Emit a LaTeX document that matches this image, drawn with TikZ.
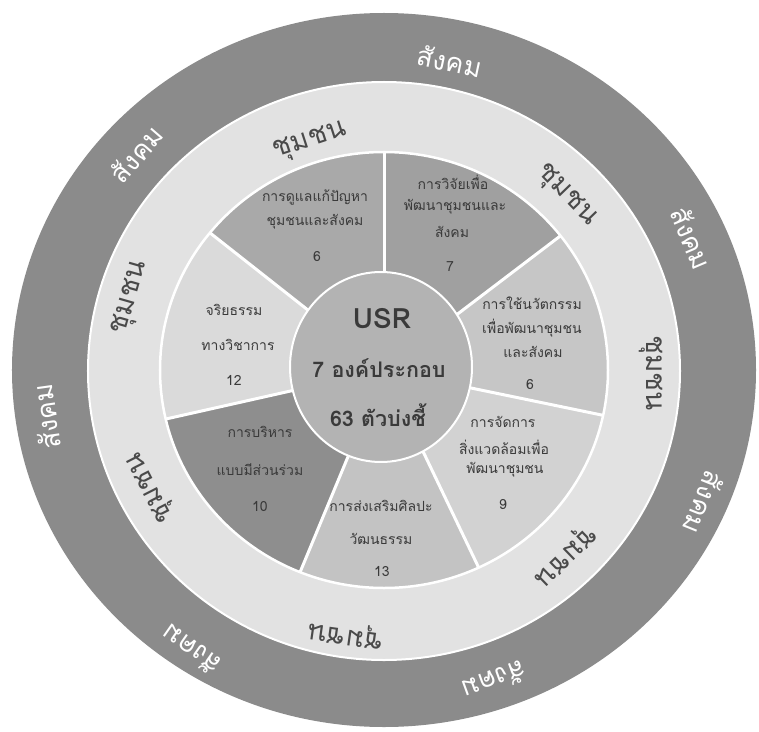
\documentclass[tikz,border=0pt]{standalone}
\usepackage{fontspec}
\newfontfamily\thai[Script=Thai]{Loma}
\definecolor{outc}{HTML}{8B8B8B}
\definecolor{ringbg}{HTML}{E2E2E2}
\definecolor{cA}{HTML}{A9A9A9}
\definecolor{cB}{HTML}{A0A0A0}
\definecolor{cC}{HTML}{C6C6C6}
\definecolor{cD}{HTML}{D2D2D2}
\definecolor{cE}{HTML}{C3C3C3}
\definecolor{cF}{HTML}{8E8E8E}
\definecolor{cG}{HTML}{DADADA}
\definecolor{cenc}{HTML}{B3B3B3}
\definecolor{txtc}{HTML}{3A3A3A}
\definecolor{ringc}{HTML}{4A4A4A}
\begin{document}
\begin{tikzpicture}[x=1pt,y=1pt,
  seg/.style={font=\thai\fontsize{14}{16}\selectfont, text=txtc, inner sep=0pt},
  ringtxt/.style={font=\thai\fontsize{28}{30}\selectfont, text=ringc, inner sep=0pt},
  outtxt/.style={font=\thai\fontsize{27}{30}\selectfont, text=white, inner sep=0pt},
  cen/.style={font=\thai\bfseries\fontsize{21.5}{25}\selectfont, text=txtc, inner sep=0pt},
  sepline/.style={draw=white, line width=3pt}]
\useasboundingbox (-384,-361) rectangle (375,370);
\fill[white] (-384,-361) rectangle (375,370);
% outer ring and light ring
\fill[outc] (0,0) ellipse [x radius=372, y radius=357];
\draw[white, line width=2pt, fill=ringbg] (0,-1) ellipse [x radius=296, y radius=289];
% sectors
\fill[cB] (0,0) -- (38:224 and 218) arc[start angle=38, end angle=90, x radius=224, y radius=218] -- cycle;
\fill[cA] (0,0) -- (90:224 and 218) arc[start angle=90, end angle=141, x radius=224, y radius=218] -- cycle;
\fill[cG] (0,0) -- (141:224 and 218) arc[start angle=141, end angle=193, x radius=224, y radius=218] -- cycle;
\fill[cF] (0,0) -- (193:224 and 218) arc[start angle=193, end angle=248, x radius=224, y radius=218] -- cycle;
\fill[cE] (0,0) -- (248:224 and 218) arc[start angle=248, end angle=295, x radius=224, y radius=218] -- cycle;
\fill[cD] (0,0) -- (295:224 and 218) arc[start angle=295, end angle=348, x radius=224, y radius=218] -- cycle;
\fill[cC] (0,0) -- (348:224 and 218) arc[start angle=348, end angle=398, x radius=224, y radius=218] -- cycle;
\draw[white, line width=2.5pt] (0,0) ellipse [x radius=224, y radius=218];
% separators
\coordinate (o) at (0,0);
\coordinate (r1) at (90:224 and 218);
\coordinate (r2) at (38:224 and 218);
\coordinate (r3) at (-12:224 and 218);
\coordinate (r4) at (-65:224 and 218);
\coordinate (r5) at (-112:224 and 218);
\coordinate (r6) at (193:224 and 218);
\coordinate (r7) at (141:224 and 218);
\foreach \r in {r1,r2,r3,r4,r5,r6,r7} \draw[sepline] (o) -- (\r);
% centre
\draw[white, line width=2pt, fill=cenc] (-3,3) ellipse [x radius=91, y radius=95];
\node[cen, font=\thai\bfseries\fontsize{28}{32}\selectfont] (usr) at (-2,51) {USR};
\node[cen] (c1) at (-5,2) {7 องค์ประกอบ};
\node[cen] (c2) at (-6,-45) {63 ตัวบ่งชี้};
% segment texts
\node[seg] (a1) at (-69,173) {การดูแลแก้ปัญหา};
\node[seg] (a2) at (-69,148) {ชุมชนและสังคม};
\node[seg] (a3) at (-67,113) {6};
\node[seg] (b1) at (69,188) {การวิจัยเพื่อ};
\node[seg] (b2) at (71,163) {พัฒนาชุมชนและ};
\node[seg] (b3) at (68,138) {สังคม};
\node[seg] (b4) at (66,103) {7};
\node[seg] (cc1) at (148,67) {การใช้นวัตกรรม};
\node[seg] (cc2) at (148,42) {เพื่อพัฒนาชุมชน};
\node[seg] (cc3) at (149,18) {และสังคม};
\node[seg] (cc4) at (146,-15) {6};
\node[seg] (d1) at (119,-52) {การจัดการ};
\node[seg] (d2) at (120,-77) {สิ่งแวดล้อมเพื่อ};
\node[seg] (d3) at (121,-100) {พัฒนาชุมชน};
\node[seg] (d4) at (119,-135) {9};
\node[seg] (e1) at (-3,-136) {การส่งเสริมศิลปะ};
\node[seg] (e2) at (-3,-169) {วัฒนธรรม};
\node[seg] (e3) at (-2,-202) {13};
\node[seg] (f1) at (-124,-62) {การบริหาร};
\node[seg] (f2) at (-124,-100) {แบบมีส่วนร่วม};
\node[seg] (f3) at (-124,-137) {10};
\node[seg] (g1) at (-150,60) {จริยธรรม};
\node[seg] (g2) at (-146,25) {ทางวิชาการ};
\node[seg] (g3) at (-150,-10) {12};
% ring texts
\node[ringtxt, rotate=18] (k1) at (-74,228) {ชุมชน};
\node[ringtxt, rotate=-46] (k2) at (182,174) {ชุมชน};
\node[ringtxt, rotate=-90] (k3) at (267,-3) {ชุมชน};
\node[ringtxt, rotate=-136] (k4) at (180,-185) {ชุมชน};
\node[ringtxt, rotate=172] (k5) at (-38,-264) {ชุมชน};
\node[ringtxt, rotate=117] (k6) at (-232,-117) {ชุมชน};
\node[ringtxt, rotate=74] (k7) at (-253,72) {ชุมชน};
% outer texts
\node[outtxt, rotate=-12] (s1) at (66,309) {สังคม};
\node[outtxt, rotate=49] (s2) at (-248,216) {สังคม};
\node[outtxt, rotate=-67] (s3) at (308,132) {สังคม};
\node[outtxt, rotate=98] (s4) at (-338,-47) {สังคม};
\node[outtxt, rotate=-112] (s5) at (320,-133) {สังคม};
\node[outtxt, rotate=145] (s6) at (-193,-280) {สังคม};
\node[outtxt, rotate=-160] (s7) at (110,-311) {สังคม};
\end{tikzpicture}
\end{document}
